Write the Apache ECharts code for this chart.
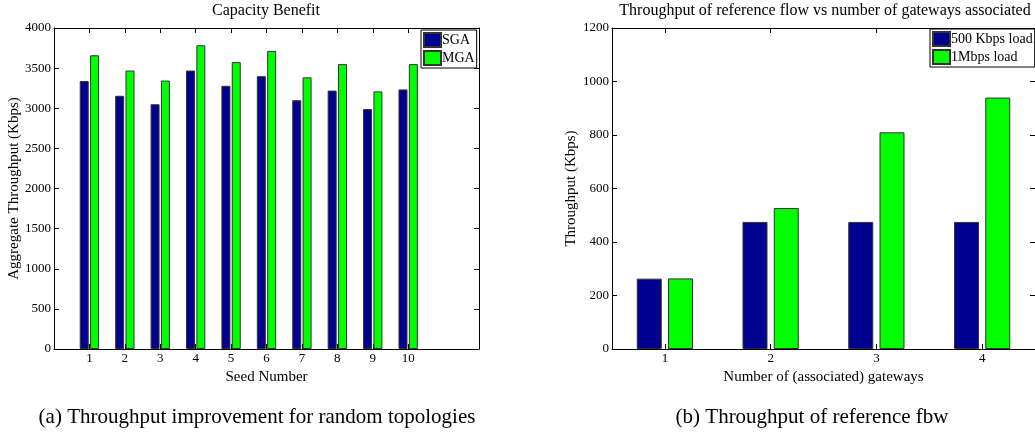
<!DOCTYPE html>
<html>
<head>
<meta charset="utf-8">
<script src="https://cdn.jsdelivr.net/npm/echarts@6/dist/echarts.min.js"></script>
<style>
  html, body { margin: 0; padding: 0; background: #fff; }
  #main { width: 1035px; height: 437px; }
</style>
</head>
<body>
<div id="main"></div>
<script>
// left chart: capacity benefit per seed
var seeds = [1, 2, 3, 4, 5, 6, 7, 8, 9, 10];
var sgaValues = [3340, 3155, 3050, 3470, 3280, 3400, 3100, 3220, 2990, 3235];
var mgaValues = [3660, 3470, 3345, 3785, 3575, 3715, 3385, 3550, 3210, 3550];
var leftTicks = [0, 500, 1000, 1500, 2000, 2500, 3000, 3500, 4000];

// right chart: reference flow throughput vs gateways
var gateways = [1, 2, 3, 4];
var load500 = [263, 475, 475, 475];
var load1M = [264, 527, 810, 940];
var rightTicks = [0, 200, 400, 600, 800, 1000, 1200];

var font = 'Liberation Serif';
var blue = '#00008f';
var green = '#00ff00';

function pairs(xs, ys) {
    return xs.map(function (x, i) { return [x, ys[i]]; });
}

function plain(v) {
    return String(v);
}

function xAxisFor(grid, min, max, ticks, name, top) {
    return {
        type: 'value', gridIndex: grid, min: min, max: max,
        position: top ? 'top' : 'bottom',
        name: top ? '' : name, nameLocation: 'middle', nameGap: 15,
        nameTextStyle: { fontFamily: font, fontSize: 15, color: '#000' },
        axisLine: { show: true, onZero: false, lineStyle: { color: '#000', width: 1 } },
        axisTick: { show: true, inside: true, length: 5, customValues: ticks, lineStyle: { color: '#000' } },
        axisLabel: { show: !top, customValues: ticks, margin: 3, formatter: plain,
                     fontFamily: font, fontSize: 13, color: '#000' },
        splitLine: { show: false }
    };
}

function yAxisFor(grid, ticks, name, gap, right) {
    return {
        type: 'value', gridIndex: grid, min: ticks[0], max: ticks[ticks.length - 1],
        interval: ticks[1] - ticks[0],
        position: right ? 'right' : 'left',
        name: right ? '' : name, nameLocation: 'middle', nameRotate: 90, nameGap: gap,
        nameTextStyle: { fontFamily: font, fontSize: 15, color: '#000' },
        axisLine: { show: true, onZero: false, lineStyle: { color: '#000', width: 1 } },
        axisTick: { show: true, inside: true, length: 5, lineStyle: { color: '#000' } },
        axisLabel: { show: !right, margin: 3, formatter: plain,
                     fontFamily: font, fontSize: 13, color: '#000' },
        splitLine: { show: false }
    };
}

var myChart = echarts.init(document.getElementById('main'));

var titleStyle = { fontFamily: font, fontSize: 16, fontWeight: 'normal', color: '#000' };
var captionStyle = { fontFamily: font, fontSize: 21, fontWeight: 'normal', color: '#000' };
var legendText = { fontFamily: font, fontSize: 14, color: '#000', padding: [0, 0, 0, -4] };

var option = {
    animation: false,
    backgroundColor: '#fff',
    title: [
        { text: 'Capacity Benefit', left: 266, top: 3, textAlign: 'center', padding: 0, textStyle: titleStyle },
        { text: 'Throughput of reference flow vs number of gateways associated', left: 825, top: 3,
          textAlign: 'center', padding: 0, textStyle: titleStyle },
        { text: '(a) Throughput improvement for random topologies', left: 257, top: 407,
          textAlign: 'center', padding: 0, textStyle: captionStyle },
        { text: '(b) Throughput of reference fbw', left: 812, top: 407,
          textAlign: 'center', padding: 0, textStyle: captionStyle }
    ],
    legend: [
        { data: ['SGA', 'MGA'], orient: 'vertical', left: 421, top: 30, padding: [2, 2, 2, 2],
          itemGap: 2, itemWidth: 17, itemHeight: 14, borderColor: '#000', borderWidth: 1,
          backgroundColor: '#fff', icon: 'rect', textStyle: legendText },
        { data: ['500 Kbps load', '1Mbps load'], orient: 'vertical', left: 930, top: 29, padding: [2, 2, 2, 2],
          itemGap: 2, itemWidth: 17, itemHeight: 14, borderColor: '#000', borderWidth: 1,
          backgroundColor: '#fff', icon: 'rect', textStyle: legendText }
    ],
    grid: [
        { left: 54, top: 28, width: 425, height: 321 },
        { left: 612, top: 28, width: 424, height: 321 }
    ],
    xAxis: [
        xAxisFor(0, 0, 12, seeds, 'Seed Number', false),
        xAxisFor(0, 0, 12, seeds, '', true),
        xAxisFor(1, 0.5, 4.5, gateways, 'Number of (associated) gateways', false),
        xAxisFor(1, 0.5, 4.5, gateways, '', true)
    ],
    yAxis: [
        yAxisFor(0, leftTicks, 'Aggregate Throughput (Kbps)', 32, false),
        yAxisFor(0, leftTicks, '', 0, true),
        yAxisFor(1, rightTicks, 'Throughput (Kbps)', 33, false),
        yAxisFor(1, rightTicks, '', 0, true)
    ],
    series: [
        { name: 'SGA', type: 'bar', xAxisIndex: 0, yAxisIndex: 0, barWidth: 9, barGap: '15%',
          itemStyle: { color: blue, borderColor: '#333', borderWidth: 1 }, data: pairs(seeds, sgaValues) },
        { name: 'MGA', type: 'bar', xAxisIndex: 0, yAxisIndex: 0, barWidth: 9, barGap: '15%',
          itemStyle: { color: green, borderColor: '#333', borderWidth: 1 }, data: pairs(seeds, mgaValues) },
        { name: '500 Kbps load', type: 'bar', xAxisIndex: 2, yAxisIndex: 2, barWidth: 25, barGap: '25%',
          itemStyle: { color: blue, borderColor: '#333', borderWidth: 1 }, data: pairs(gateways, load500) },
        { name: '1Mbps load', type: 'bar', xAxisIndex: 2, yAxisIndex: 2, barWidth: 25, barGap: '25%',
          itemStyle: { color: green, borderColor: '#333', borderWidth: 1 }, data: pairs(gateways, load1M) }
    ]
};

myChart.setOption(option);
window.addEventListener('resize', function () {
    myChart.resize();
});
</script>
</body>
</html>
